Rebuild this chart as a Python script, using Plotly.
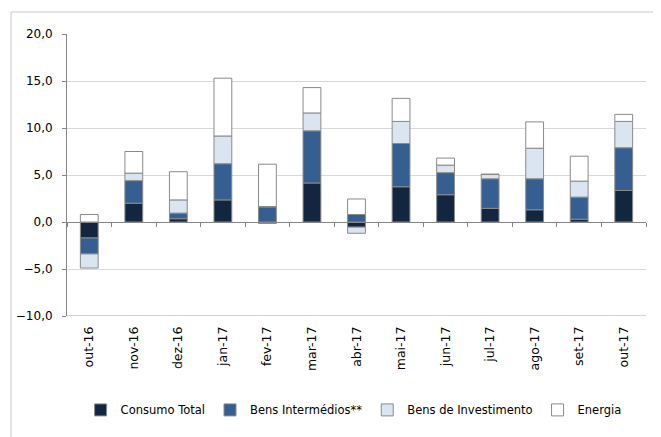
import plotly.graph_objects as go

categories = ["out-16", "nov-16", "dez-16", "jan-17", "fev-17", "mar-17", "abr-17",
              "mai-17", "jun-17", "jul-17", "ago-17", "set-17", "out-17"]
consumo_total = [-1.7, 2.0, 0.35, 2.35, -0.15, 4.15, -0.55, 3.75, 2.9, 1.45, 1.3, 0.3, 3.35]
bens_intermedios = [-1.7, 2.4, 0.6, 3.85, 1.6, 5.55, 0.8, 4.6, 2.35, 3.15, 3.3, 2.35, 4.55]
bens_investimento = [-1.5, 0.8, 1.4, 2.95, 0.05, 1.9, -0.65, 2.35, 0.8, 0.45, 3.25, 1.7, 2.8]
energia = [0.8, 2.3, 3.0, 6.15, 4.5, 2.7, 1.65, 2.45, 0.75, 0.05, 2.8, 2.65, 0.75]

series = [
    ("Consumo Total", consumo_total, "#132640"),
    ("Bens Intermédios**", bens_intermedios, "#365F91"),
    ("Bens de Investimento", bens_investimento, "#DBE5F1"),
    ("Energia", energia, "#FFFFFF"),
]

FONT = "DejaVu Sans"
W, H = 653, 429
ML, MR, MT, MB = 59, 15, 26, 121
PW, PH = W - ML - MR, H - MT - MB

fig = go.Figure()
for name, vals, col in series:
    fig.add_trace(go.Bar(
        x=categories, y=vals, name=name,
        marker=dict(color=col, line=dict(color="#8a8a8a", width=1)),
    ))

# helper axis at y=0 carrying the category boundary ticks
fig.add_trace(go.Scatter(x=[], y=[], xaxis="x2", showlegend=False, hoverinfo="skip"))

n = len(categories)
fig.update_layout(
    width=W, height=H,
    margin=dict(l=ML, r=MR, t=MT, b=MB, autoexpand=False),
    paper_bgcolor="white", plot_bgcolor="white",
    barmode="relative", bargap=0.6,
    separators=",.",
    font=dict(family=FONT, size=12, color="#000000"),
    showlegend=True,
    legend=dict(orientation="h", x=0.495, xanchor="center", y=-0.333, yanchor="middle",
                font=dict(family=FONT, size=11.5), traceorder="normal",
                itemwidth=30, tracegroupgap=0),
    xaxis=dict(type="category", categoryorder="array", categoryarray=categories,
               tickangle=-90, tickfont=dict(family=FONT, size=12.5),
               showgrid=False, zeroline=False, showline=False, ticks="",
               ticklabelstandoff=7, automargin=False),
    xaxis2=dict(overlaying="x", anchor="free", position=(0 - (-10)) / 30,
                range=[-0.5, n - 0.5], tickvals=[i - 0.5 for i in range(n + 1)],
                showticklabels=False, ticks="outside", ticklen=4, tickcolor="#868686",
                showline=True, linecolor="#868686", linewidth=1, showgrid=False,
                zeroline=False, fixedrange=True, automargin=False),
    yaxis=dict(range=[-10, 20], dtick=5, tick0=0, tickformat=".1f",
               showgrid=True, gridcolor="#d9d9d9", gridwidth=1,
               zeroline=False, showline=True, linecolor="#868686", linewidth=1,
               ticks="outside", ticklen=4, tickcolor="#868686",
               tickfont=dict(family=FONT, size=12), ticklabelstandoff=7, automargin=False),
    shapes=[
        dict(type="line", xref="paper", yref="y", x0=0, x1=1, y0=-10, y1=-10,
             line=dict(color="#a6a6a6", width=1), layer="above"),
        dict(type="rect", xref="paper", yref="paper",
             x0=(3 - ML) / PW, x1=(W + 20 - ML) / PW,
             y0=(H - MB - (H + 20)) / PH, y1=(H - MB - 4) / PH,
             line=dict(color="#c8c8c8", width=1), fillcolor="rgba(0,0,0,0)", layer="below"),
    ],
)

fig.write_html("out.html")
